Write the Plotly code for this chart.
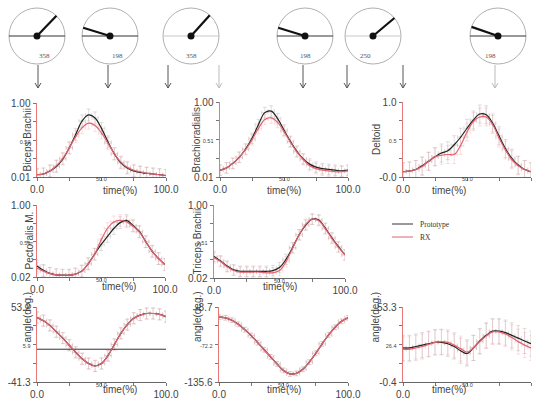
import math
import plotly.graph_objects as go

W, H = 540, 403

def X(px):
    return px / W

def Y(py):
    return 1 - py / H

# ---------------- data ----------------
time_pct = [0, 5, 10, 15, 20, 25, 30, 35, 40, 45, 50, 55, 60, 65, 70, 75, 80, 85, 90, 95, 100]

biceps_proto = [0.04, 0.05, 0.09, 0.15, 0.25, 0.40, 0.58, 0.76, 0.84, 0.80, 0.66, 0.48, 0.32, 0.20, 0.13, 0.09, 0.07, 0.06, 0.05, 0.04, 0.03]
biceps_rx    = [0.04, 0.05, 0.09, 0.16, 0.26, 0.40, 0.55, 0.67, 0.73, 0.70, 0.60, 0.46, 0.32, 0.21, 0.14, 0.10, 0.08, 0.06, 0.05, 0.04, 0.03]

brachio_proto = [0.10, 0.13, 0.19, 0.27, 0.38, 0.52, 0.70, 0.86, 0.88, 0.78, 0.63, 0.48, 0.35, 0.25, 0.18, 0.14, 0.12, 0.11, 0.10, 0.09, 0.10]
brachio_rx    = [0.10, 0.13, 0.19, 0.27, 0.37, 0.50, 0.65, 0.77, 0.79, 0.73, 0.61, 0.47, 0.34, 0.24, 0.16, 0.12, 0.10, 0.09, 0.08, 0.08, 0.09]

deltoid_proto = [0.07, 0.08, 0.10, 0.15, 0.21, 0.27, 0.32, 0.35, 0.43, 0.53, 0.65, 0.76, 0.84, 0.83, 0.72, 0.55, 0.38, 0.25, 0.16, 0.10, 0.07]
deltoid_rx    = [0.07, 0.08, 0.10, 0.14, 0.21, 0.27, 0.29, 0.30, 0.30, 0.42, 0.60, 0.74, 0.80, 0.80, 0.70, 0.52, 0.36, 0.23, 0.15, 0.10, 0.07]

pector_proto = [0.17, 0.11, 0.07, 0.05, 0.045, 0.045, 0.06, 0.10, 0.20, 0.33, 0.46, 0.57, 0.68, 0.76, 0.79, 0.72, 0.64, 0.50, 0.37, 0.27, 0.19]
pector_rx    = [0.14, 0.10, 0.07, 0.05, 0.045, 0.045, 0.06, 0.10, 0.20, 0.33, 0.52, 0.68, 0.77, 0.79, 0.77, 0.71, 0.63, 0.50, 0.37, 0.27, 0.19]

triceps_proto = [0.31, 0.25, 0.18, 0.13, 0.11, 0.11, 0.11, 0.11, 0.11, 0.12, 0.16, 0.27, 0.43, 0.60, 0.73, 0.81, 0.80, 0.69, 0.56, 0.44, 0.33]
triceps_rx    = [0.29, 0.24, 0.17, 0.12, 0.10, 0.10, 0.10, 0.10, 0.09, 0.09, 0.12, 0.24, 0.42, 0.60, 0.74, 0.81, 0.79, 0.68, 0.55, 0.43, 0.33]

angle1_proto = [40, 36, 30, 22, 14, 5, -4, -12, -18, -21, -18, -8, 6, 20, 31, 39, 43, 45, 45, 44, 41]
angle1_rx    = [40, 36, 30, 22, 14, 5, -4, -12, -18, -21, -18, -8, 6, 20, 31, 39, 43, 45, 45, 44, 41]

angle2_proto = [-26, -27, -31, -38, -47, -57, -69, -81, -93, -105, -116, -122, -121, -114, -102, -87, -71, -56, -43, -33, -27]
angle2_rx    = [-26, -27, -31, -38, -47, -57, -69, -81, -93, -105, -116, -122, -121, -114, -102, -87, -71, -56, -43, -33, -27]

angle3_proto = [24, 24, 25, 26, 27, 28, 28, 27, 25, 22, 20, 24, 29, 33, 36, 36, 35, 33, 31, 29, 27]
angle3_rx    = [23, 23, 24, 25, 26.5, 28, 28.5, 28, 26, 23.5, 21, 24, 28.5, 32.5, 35.5, 35.5, 34, 31.5, 28.5, 26, 24]

angle1_ref_x = [0, 100]
angle1_ref_y = [0, 0]

gauge_labels = ["358", "198", "358", "198", "250", "198"]
gauge_angles = [46, 163, 48, 163, 40, 161]

x_ticklabels = ["0.0", "50.0", "100.0"]

# ---------------- panels ----------------
panels = [
    dict(title="Biceps Brachii", p=biceps_proto, r=biceps_rx, rng=[0.01, 1.00], lab=["0.01", "0.50", "1.00"],
         dom=(37, 166, 103, 177), sd=0.08, tx=20, tt=13.5),
    dict(title="Brachioradialis", p=brachio_proto, r=brachio_rx, rng=[0.01, 1.00], lab=["0.01", "0.51", "1.00"],
         dom=(220, 348, 102, 177), sd=0.07, tx=196, tt=13.5),
    dict(title="Deltoid", p=deltoid_proto, r=deltoid_rx, rng=[0.0, 1.0], lab=["-0.0", "0.5", "1.0"],
         dom=(403, 531, 102, 177), sd=0.12, tx=384, tt=13.5),
    dict(title="Pectoralis M.", p=pector_proto, r=pector_rx, rng=[0.02, 1.00], lab=["0.02", "0.51", "1.00"],
         dom=(37, 165, 205, 277), sd=0.08, tx=21, tt=16),
    dict(title="Triceps Brachii", p=triceps_proto, r=triceps_rx, rng=[0.02, 1.00], lab=["0.02", "0.51", "1.00"],
         dom=(214, 345, 205, 278), sd=0.07, tx=197, tt=15),
    dict(title="angle(deg.)", p=angle1_proto, r=angle1_rx, rng=[-41.3, 53.2], lab=["-41.3", "5.9", "53.2"],
         dom=(37, 166, 307, 382), sd=7, tx=19, tt=13.5),
    dict(title="angle(deg.)", p=angle2_proto, r=angle2_rx, rng=[-135.6, -8.7], lab=["-135.6", "-72.2", "-8.7"],
         dom=(219, 348, 307, 382), sd=4, tx=197, tt=13.5),
    dict(title="angle(deg.)", p=angle3_proto, r=angle3_rx, rng=[-0.4, 53.3], lab=["-0.4", "26.4", "53.3"],
         dom=(403, 531, 307, 382), sd=9, tx=382, tt=13.5),
]

BLACK = "#222222"
RED = "#e06470"
GRAY_ERR = "rgba(140,140,140,0.45)"
PINK_ERR = "rgba(240,140,150,0.45)"
YAXIS_COL = "#e87878"
FONT = "Liberation Sans, Arial, sans-serif"
TXT = "#444444"

fig = go.Figure()
layout = dict(width=W, height=H, autosize=False, margin=dict(l=0, r=0, t=0, b=0, pad=0, autoexpand=False),
              paper_bgcolor="white", plot_bgcolor="white", showlegend=False,
              font=dict(family=FONT, size=10, color=TXT))
annotations = []
shapes = []

def small(s):
    return '<span style="font-size:5.5px">' + s + '</span>'

for i, pn in enumerate(panels):
    k = i + 1
    xa = "x" if k == 1 else f"x{k}"
    ya = "y" if k == 1 else f"y{k}"
    x0, x1, y0, y1 = pn["dom"]
    lo, hi = pn["rng"]
    mid = (lo + hi) / 2
    for vals, col in ((pn["p"], GRAY_ERR), (pn["r"], PINK_ERR)):
        fig.add_trace(go.Scatter(
            x=time_pct, y=vals, mode="markers", xaxis=xa, yaxis=ya,
            marker=dict(size=1, color="rgba(0,0,0,0)"),
            error_y=dict(type="constant", value=pn["sd"], color=col, thickness=0.6, width=2),
            error_x=dict(type="constant", value=2.5, color=col, thickness=0.6, width=2),
            hoverinfo="skip"))
    if k == 6:
        fig.add_trace(go.Scatter(x=angle1_ref_x, y=angle1_ref_y, mode="lines", xaxis=xa, yaxis=ya,
                                 line=dict(color="#333333", width=1)))
    fig.add_trace(go.Scatter(x=time_pct, y=pn["p"], mode="lines", xaxis=xa, yaxis=ya, name="Prototype",
                             line=dict(color=BLACK, width=1.2, shape="spline")))
    fig.add_trace(go.Scatter(x=time_pct, y=pn["r"], mode="lines", xaxis=xa, yaxis=ya, name="RX",
                             line=dict(color=RED, width=1.2, shape="spline")))

    layout["xaxis" if k == 1 else f"xaxis{k}"] = dict(
        domain=[X(x0), X(x1)], anchor=ya, range=[0, 100], automargin=False,
        showgrid=False, zeroline=False, showline=True, linecolor="#666666", linewidth=1,
        ticks="outside", ticklen=3, tickcolor="#777777",
        tickvals=[0, 25, 50, 75, 100],
        ticktext=[x_ticklabels[0], "", "", "", x_ticklabels[2]],
        tickfont=dict(size=10, color=TXT, family=FONT))
    layout["yaxis" if k == 1 else f"yaxis{k}"] = dict(
        domain=[Y(y1), Y(y0)], anchor=xa, range=[lo, hi], automargin=False,
        showgrid=False, zeroline=False, showline=True, linecolor=YAXIS_COL, linewidth=1.5,
        ticks="outside", ticklen=3, tickcolor="#777777",
        tickvals=[lo, (lo + mid) / 2, mid, (mid + hi) / 2, hi],
        ticktext=[pn["lab"][0], "", small(pn["lab"][1]), "", pn["lab"][2]],
        tickfont=dict(size=10, color=TXT, family=FONT))
    annotations.append(dict(x=50, xref=xa, y=Y(y1 + 2.5), yref="paper", yanchor="middle",
                            text=x_ticklabels[1], showarrow=False, borderpad=0,
                            font=dict(size=5.5, color=TXT, family=FONT)))
    annotations.append(dict(x=X(pn["tx"]), y=Y((y0 + y1) / 2), xref="paper", yref="paper",
                            text=pn["title"], showarrow=False, textangle=-90,
                            font=dict(size=10, color=TXT, family=FONT)))
    annotations.append(dict(x=X((x0 + x1) / 2), y=Y(y1 + pn["tt"]), xref="paper", yref="paper",
                            text="time(%)", showarrow=False, borderpad=0,
                            font=dict(size=10, color=TXT, family=FONT)))

# ---------------- gauges ----------------
gauge_cx = [37, 110, 191, 305, 373, 498]
gauge_cy = 36
gauge_r = 28
h_line_cols = ["#333333", "#333333", "#c8c8c8", "#333333", "#c8c8c8", "#333333"]
for cx, lab, ang, hc in zip(gauge_cx, gauge_labels, gauge_angles, h_line_cols):
    shapes.append(dict(type="circle", xref="paper", yref="paper",
                       x0=X(cx - gauge_r), x1=X(cx + gauge_r), y0=Y(gauge_cy + gauge_r), y1=Y(gauge_cy - gauge_r),
                       line=dict(color="#9a9a9a", width=0.8)))
    shapes.append(dict(type="line", xref="paper", yref="paper",
                       x0=X(cx - gauge_r), x1=X(cx + gauge_r), y0=Y(gauge_cy), y1=Y(gauge_cy),
                       line=dict(color=hc, width=1)))
    ex = cx + gauge_r * math.cos(math.radians(ang))
    ey = gauge_cy - gauge_r * math.sin(math.radians(ang))
    shapes.append(dict(type="line", xref="paper", yref="paper",
                       x0=X(cx), x1=X(ex), y0=Y(gauge_cy), y1=Y(ey),
                       line=dict(color="#111111", width=2.2)))
    shapes.append(dict(type="circle", xref="paper", yref="paper",
                       x0=X(cx - 3.5), x1=X(cx + 3.5), y0=Y(gauge_cy + 3.5), y1=Y(gauge_cy - 3.5),
                       fillcolor="#111111", line=dict(color="#111111", width=0)))
    annotations.append(dict(x=X(cx), y=Y(gauge_cy + 14), xref="paper", yref="paper", text=lab,
                            showarrow=False, font=dict(size=7, color="#555555", family="Liberation Serif, serif")))

# ---------------- arrows ----------------
arrow_x = [38, 108, 168, 219, 303, 347, 403, 495]
arrow_cols = ["#555555", "#555555", "#555555", "#bbbbbb", "#555555", "#555555", "#555555", "#bbbbbb"]
for ax_, col in zip(arrow_x, arrow_cols):
    top, tip = 65, 88
    path = (f"M {X(ax_)},{Y(top)} L {X(ax_)},{Y(tip)} "
            f"M {X(ax_ - 3)},{Y(tip - 5)} L {X(ax_)},{Y(tip)} L {X(ax_ + 3)},{Y(tip - 5)}")
    shapes.append(dict(type="path", xref="paper", yref="paper", path=path,
                       line=dict(color=col, width=1)))

# ---------------- legend ----------------
for ly, col, name in ((224, "#333333", "Prototype"), (237, RED, "RX")):
    shapes.append(dict(type="line", xref="paper", yref="paper",
                       x0=X(392), x1=X(413), y0=Y(ly), y1=Y(ly), line=dict(color=col, width=1)))
    annotations.append(dict(x=X(418), y=Y(ly), xref="paper", yref="paper", text=name,
                            xanchor="left", showarrow=False,
                            font=dict(size=7.5, color="#333333", family="Liberation Serif, serif")))

layout["annotations"] = annotations
layout["shapes"] = shapes
fig.update_layout(**layout)
fig.write_html("out.html", config={"displayModeBar": False, "staticPlot": True},
               post_script="document.body.style.margin='0';document.body.style.overflow='hidden';")
